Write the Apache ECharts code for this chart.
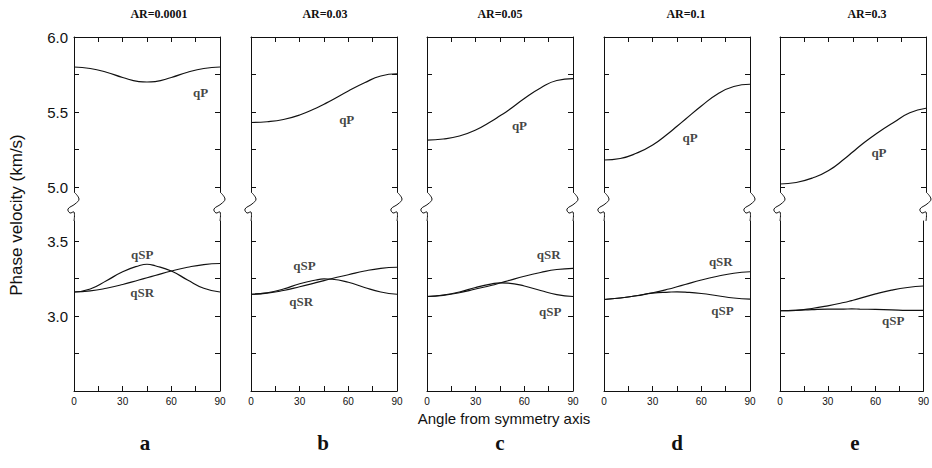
<!DOCTYPE html>
<html>
<head>
<meta charset="utf-8">
<script src="https://cdn.jsdelivr.net/npm/echarts@6/dist/echarts.min.js"></script>
<style>
html,body{margin:0;padding:0;background:#fff;}
#chart{width:932px;height:468px;}
</style>
</head>
<body>
<div id="chart"></div>
<script>
// ---------------- data ----------------
const angles = [0, 10, 20, 30, 40, 45, 50, 60, 70, 80, 90];
const panelTitles = ['AR=0.0001', 'AR=0.03', 'AR=0.05', 'AR=0.1', 'AR=0.3'];
const panelLetters = ['a', 'b', 'c', 'd', 'e'];
const xTickLabels = [0, 30, 60, 90];
const upperTickLabels = [5.0, 5.5, 6.0];
const lowerTickLabels = [3.0, 3.5];
const curveNames = ['qP', 'qSP', 'qSR'];

const qP_a  = [5.80, 5.79, 5.765, 5.73, 5.703, 5.70, 5.703, 5.73, 5.765, 5.79, 5.80];
const qSP_a = [3.16, 3.18, 3.235, 3.295, 3.335, 3.345, 3.335, 3.30, 3.24, 3.185, 3.16];
const qSR_a = [3.16, 3.167, 3.185, 3.21, 3.24, 3.255, 3.27, 3.30, 3.325, 3.343, 3.35];

const qP_b  = [5.43, 5.435, 5.45, 5.48, 5.525, 5.552, 5.58, 5.64, 5.695, 5.74, 5.755];
const qSP_b = [3.145, 3.155, 3.18, 3.215, 3.24, 3.247, 3.245, 3.225, 3.19, 3.16, 3.145];
const qSR_b = [3.145, 3.152, 3.17, 3.195, 3.222, 3.236, 3.25, 3.275, 3.30, 3.318, 3.325];

const qP_c  = [5.313, 5.32, 5.34, 5.38, 5.44, 5.475, 5.51, 5.59, 5.66, 5.71, 5.722];
const qSP_c = [3.13, 3.14, 3.16, 3.19, 3.214, 3.221, 3.219, 3.20, 3.17, 3.142, 3.13];
const qSR_c = [3.13, 3.138, 3.155, 3.18, 3.205, 3.22, 3.235, 3.265, 3.29, 3.31, 3.318];

const qP_d  = [5.18, 5.19, 5.225, 5.28, 5.36, 5.405, 5.45, 5.54, 5.62, 5.67, 5.685];
const qSP_d = [3.11, 3.12, 3.135, 3.152, 3.159, 3.161, 3.159, 3.15, 3.135, 3.12, 3.112];
const qSR_d = [3.11, 3.12, 3.135, 3.155, 3.18, 3.195, 3.21, 3.24, 3.265, 3.285, 3.295];

const qP_e  = [5.02, 5.03, 5.06, 5.11, 5.19, 5.235, 5.28, 5.36, 5.43, 5.495, 5.525];
const qSP_e = [3.035, 3.038, 3.043, 3.046, 3.046, 3.047, 3.046, 3.044, 3.041, 3.038, 3.037];
const qSR_e = [3.035, 3.038, 3.05, 3.068, 3.09, 3.103, 3.117, 3.147, 3.172, 3.19, 3.20];

// ---------------- layout / annotations ----------------
const panels = [
  {qP: qP_a, qSP: qSP_a, qSR: qSR_a},
  {qP: qP_b, qSP: qSP_b, qSR: qSR_b},
  {qP: qP_c, qSP: qSP_c, qSR: qSR_c},
  {qP: qP_d, qSP: qSP_d, qSR: qSR_d},
  {qP: qP_e, qSP: qSP_e, qSR: qSR_e}
];
// label anchors in data coordinates [name, angle, velocity]
const labelAnchors = [
  {upper: [['qP', 78, 5.633]], lower: [['qSP', 42, 3.41], ['qSR', 42, 3.155]]},
  {upper: [['qP', 59, 5.447]], lower: [['qSP', 33, 3.34], ['qSR', 31, 3.10]]},
  {upper: [['qP', 57, 5.413]], lower: [['qSR', 75, 3.407], ['qSP', 76, 3.03]]},
  {upper: [['qP', 53, 5.333]], lower: [['qSR', 72, 3.362], ['qSP', 73, 3.04]]},
  {upper: [['qP', 61, 5.233]], lower: [['qSP', 71, 2.969]]}
];
const panelLeft = [74, 251, 427, 604, 780];
const panelW = 146;
const upperTop = 37, upperH = 155;
const lowerTop = 221, lowerH = 170;
const pxPerUnit = 150;
const upperMax = 6.0, upperMin = upperMax - upperH / pxPerUnit;
const lowerMin = 2.5, lowerMax = lowerMin + lowerH / pxPerUnit;
const titleX = [159, 325, 500, 686, 867];
const letterX = [145, 323, 500, 677, 855];

const serif = '"Liberation Serif", "Times New Roman", serif';
const sans = '"Liberation Sans", Arial, sans-serif';
const ink = '#111';

const grids = [], xAxes = [], yAxes = [], series = [], graphics = [];

panels.forEach((p, i) => {
  const L = panelLeft[i];
  grids.push({left: L, top: upperTop, width: panelW, height: upperH});
  grids.push({left: L, top: lowerTop, width: panelW, height: lowerH});
  const gU = 2 * i, gL = 2 * i + 1;

  const xBase = {
    type: 'value', min: 0, max: 90, interval: 15,
    axisLine: {show: true, lineStyle: {color: ink, width: 1}},
    axisTick: {show: true, inside: true, length: 5, lineStyle: {color: ink, width: 1}},
    splitLine: {show: false}
  };
  xAxes.push(Object.assign({}, xBase, {gridIndex: gU, position: 'top', axisLabel: {show: false}}));
  xAxes.push(Object.assign({}, xBase, {gridIndex: gL, position: 'bottom',
    axisLabel: {show: true, margin: 5, fontSize: 10, fontFamily: sans, color: ink,
      formatter: v => (xTickLabels.indexOf(v) >= 0 ? String(v) : '')}}));

  const yBase = (gi, pos, mn, mx, ticks, labels) => ({
    type: 'value', gridIndex: gi, position: pos, min: mn, max: mx,
    axisLine: {show: true, onZero: false, lineStyle: {color: ink, width: 1}},
    axisTick: {show: true, inside: true, length: 5, lineStyle: {color: ink, width: 1}, customValues: ticks},
    axisLabel: labels ? {show: true, customValues: labels, margin: 6, fontSize: 15, fontFamily: sans, color: ink,
      formatter: v => Number(v).toFixed(1)} : {show: false},
    splitLine: {show: false}
  });
  const upTicks = [5.0, 5.25, 5.5, 5.75, 6.0];
  const loTicks = [2.75, 3.0, 3.25, 3.5];
  yAxes.push(yBase(gU, 'left', upperMin, upperMax, upTicks, i === 0 ? upperTickLabels : null));
  yAxes.push(yBase(gU, 'right', upperMin, upperMax, upTicks, null));
  yAxes.push(yBase(gL, 'left', lowerMin, lowerMax, loTicks, i === 0 ? lowerTickLabels : null));
  yAxes.push(yBase(gL, 'right', lowerMin, lowerMax, loTicks, null));

  const lineStyle = {color: ink, width: 1.2};
  const mk = (name, vals, xi, yi) => ({
    name: name, type: 'line', xAxisIndex: xi, yAxisIndex: yi, smooth: 0.5,
    showSymbol: false, symbol: 'none', lineStyle: lineStyle, silent: true,
    data: angles.map((a, k) => [a, vals[k]])
  });
  series.push(mk(curveNames[0], p.qP, gU, 4 * i));
  series.push(mk(curveNames[1], p.qSP, gL, 4 * i + 2));
  series.push(mk(curveNames[2], p.qSR, gL, 4 * i + 2));

  const lblSeries = (arr, xi, yi) => ({
    type: 'scatter', xAxisIndex: xi, yAxisIndex: yi, symbolSize: 0, silent: true,
    label: {show: true, position: 'inside', formatter: d => d.data[2],
      fontFamily: serif, fontWeight: 'bold', fontSize: 13, color: ink},
    data: arr.map(t => [t[1], t[2], t[0]])
  });
  series.push(lblSeries(labelAnchors[i].upper, gU, 4 * i));
  series.push(lblSeries(labelAnchors[i].lower, gL, 4 * i + 2));

  // axis-break squiggles on both sides
  [L, L + panelW].forEach(x0 => {
    graphics.push({
      type: 'polyline', silent: true,
      shape: {points: [[x0, upperTop + upperH], [x0 + 5, 199], [x0 + 1, 204], [x0 - 6, 209], [x0 - 4, 213], [x0, 212], [x0, lowerTop]], smooth: 0.4},
      style: {stroke: ink, lineWidth: 1, fill: null}
    });
  });

  graphics.push({type: 'text', x: titleX[i], y: 14, silent: true,
    style: {text: panelTitles[i], font: 'bold 12px ' + serif, fill: ink, textAlign: 'center', textVerticalAlign: 'middle'}});
  graphics.push({type: 'text', x: letterX[i], y: 443, silent: true,
    style: {text: panelLetters[i], font: 'bold 21px ' + serif, fill: ink, textAlign: 'center', textVerticalAlign: 'middle'}});
});

graphics.push({type: 'text', x: 504, y: 418, silent: true,
  style: {text: 'Angle from symmetry axis', font: '15px ' + sans, fill: ink, textAlign: 'center', textVerticalAlign: 'middle'}});
graphics.push({type: 'text', x: 16, y: 215, rotation: Math.PI / 2, silent: true,
  style: {text: 'Phase velocity (km/s)', font: '17px ' + sans, fill: ink, textAlign: 'center', textVerticalAlign: 'middle'}});

const chart = echarts.init(document.getElementById('chart'), null, {renderer: 'svg'});
chart.setOption({
  animation: false,
  backgroundColor: '#fff',
  grid: grids,
  xAxis: xAxes,
  yAxis: yAxes,
  series: series,
  graphic: graphics
});
</script>
</body>
</html>
